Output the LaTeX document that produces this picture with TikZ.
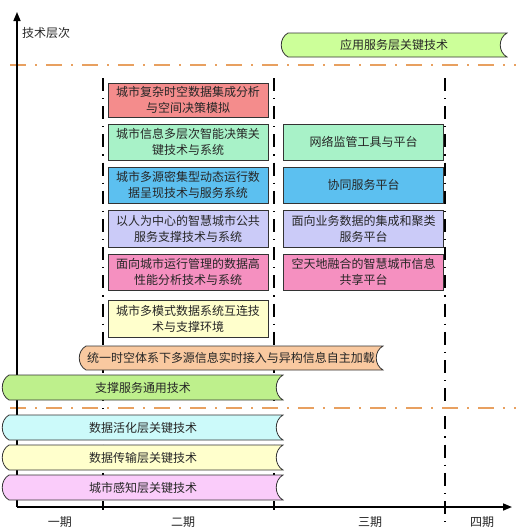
\documentclass[tikz,border=0pt]{standalone}
\usepackage{fontspec}
\newfontfamily\cjk{Noto Sans CJK SC}
\usetikzlibrary{arrows.meta}
\definecolor{cRed}{HTML}{F48C8C}
\definecolor{cGreen}{HTML}{A8F2C8}
\definecolor{cBlue}{HTML}{5CC0F0}
\definecolor{cLav}{HTML}{CBCBF8}
\definecolor{cPink}{HTML}{F590C0}
\definecolor{cYel}{HTML}{FFFFCC}
\definecolor{bApp}{HTML}{CCFF99}
\definecolor{bOra}{HTML}{F9C9A0}
\definecolor{bSup}{HTML}{BEF08C}
\definecolor{bAct}{HTML}{CCFAFA}
\definecolor{bTra}{HTML}{FFFFCC}
\definecolor{bPer}{HTML}{FACCFA}
\definecolor{cOrLine}{HTML}{E8A060}
\newcommand\bannerdraw[8]{%
  \filldraw[fill=#5, draw=black!80, line width=0.8pt]
    (#1+6,#2) -- (#3,#2) .. controls (#3-9,#2+5) and (#3-9,#4-5) .. (#3,#4)
    -- (#1+6,#4) .. controls (#1-3,#4-5) and (#1-3,#2+5) .. (#1+6,#2) -- cycle;
  \node[txt] (#6) at (#8,{(#2+#4)/2}) {#7};
}
\begin{document}
\begin{tikzpicture}[x=1pt,y=-1pt,
  txt/.style={font=\cjk\fontsize{12}{16}\selectfont, inner sep=0pt, align=center, text=black!85},
  box/.style={txt, draw=black!80, line width=0.9pt, minimum width=160pt},
  vline/.style={line width=2pt, black, dash pattern=on 13pt off 7pt on 1.2pt off 7pt},
  oline/.style={line width=2.6pt, cOrLine, dash pattern=on 16pt off 9pt on 2pt off 9pt},
  axis/.style={line width=1.6pt, black, -{Triangle[length=9pt,width=7pt]}}
]
\useasboundingbox (0,0) rectangle (531,531);
% vertical period lines
\coordinate (v1t) at (103,78); \coordinate (v1b) at (103,510);
\coordinate (v2t) at (274,78); \coordinate (v2b) at (274,510);
\coordinate (v3t) at (445,78); \coordinate (v3b) at (445,522);
\draw[vline] (v1t) -- (v1b);
\draw[vline] (v2t) -- (v2b);
\draw[vline] (v3t) -- (v3b);
% orange separators
\coordinate (o1a) at (10,65); \coordinate (o1b) at (516,65);
\coordinate (o2a) at (10,408); \coordinate (o2b) at (516,408);
\draw[oline] (o1a) -- (o1b);
\draw[oline] (o2a) -- (o2b);
% axes
\coordinate (orig) at (17,507);
\coordinate (ytop) at (17,12);
\coordinate (xend) at (512,507);
\draw[axis] (orig) -- (ytop);
\draw[axis] (orig) -- (xend);
\node[txt, anchor=west] (ylab) at (22,33) {技术层次};
\node[txt] (p1) at (60,522) {一期};
\node[txt] (p2) at (183,522) {二期};
\node[txt] (p3) at (370,522) {三期};
\node[txt] (p4) at (482,522) {四期};
% column 1 boxes
\node[box, fill=cRed, minimum height=34pt] (a1) at (188,100) {城市复杂时空数据集成分析\\与空间决策模拟};
\node[box, fill=cGreen, minimum height=36pt] (a2) at (188,142) {城市信息多层次智能决策关\\键技术与系统};
\node[box, fill=cBlue, minimum height=36pt] (a3) at (188,185) {城市多源密集型动态运行数\\据呈现技术与服务系统};
\node[box, fill=cLav, minimum height=37pt] (a4) at (188,228.5) {以人为中心的智慧城市公共\\服务支撑技术与系统};
\node[box, fill=cPink, minimum height=36pt] (a5) at (188,272) {面向城市运行管理的数据高\\性能分析技术与系统};
\node[box, fill=cYel, minimum height=37pt] (a6) at (188,318.5) {城市多模式数据系统互连技\\术与支撑环境};
% column 2 boxes
\node[box, fill=cGreen, minimum height=36pt] (b1) at (363.5,142) {网络监管工具与平台};
\node[box, fill=cBlue, minimum height=36pt] (b2) at (363.5,185) {协同服务平台};
\node[box, fill=cLav, minimum height=37pt] (b3) at (363.5,228.5) {面向业务数据的集成和聚类\\服务平台};
\node[box, fill=cPink, minimum height=36pt] (b4) at (363.5,272) {空天地融合的智慧城市信息\\共享平台};
% banners
\bannerdraw{282}{33}{507}{57}{bApp}{app}{应用服务层关键技术}{394}
\bannerdraw{80}{346}{383}{370}{bOra}{uni}{统一时空体系下多源信息实时接入与异构信息自主加载}{231}
\bannerdraw{3}{375}{283}{400}{bSup}{sup}{支撑服务通用技术}{143}
\bannerdraw{3}{415}{283}{440}{bAct}{act}{数据活化层关键技术}{143}
\bannerdraw{3}{445}{283}{470}{bTra}{tra}{数据传输层关键技术}{143}
\bannerdraw{3}{475}{283}{500}{bPer}{per}{城市感知层关键技术}{143}
\end{tikzpicture}
\end{document}
